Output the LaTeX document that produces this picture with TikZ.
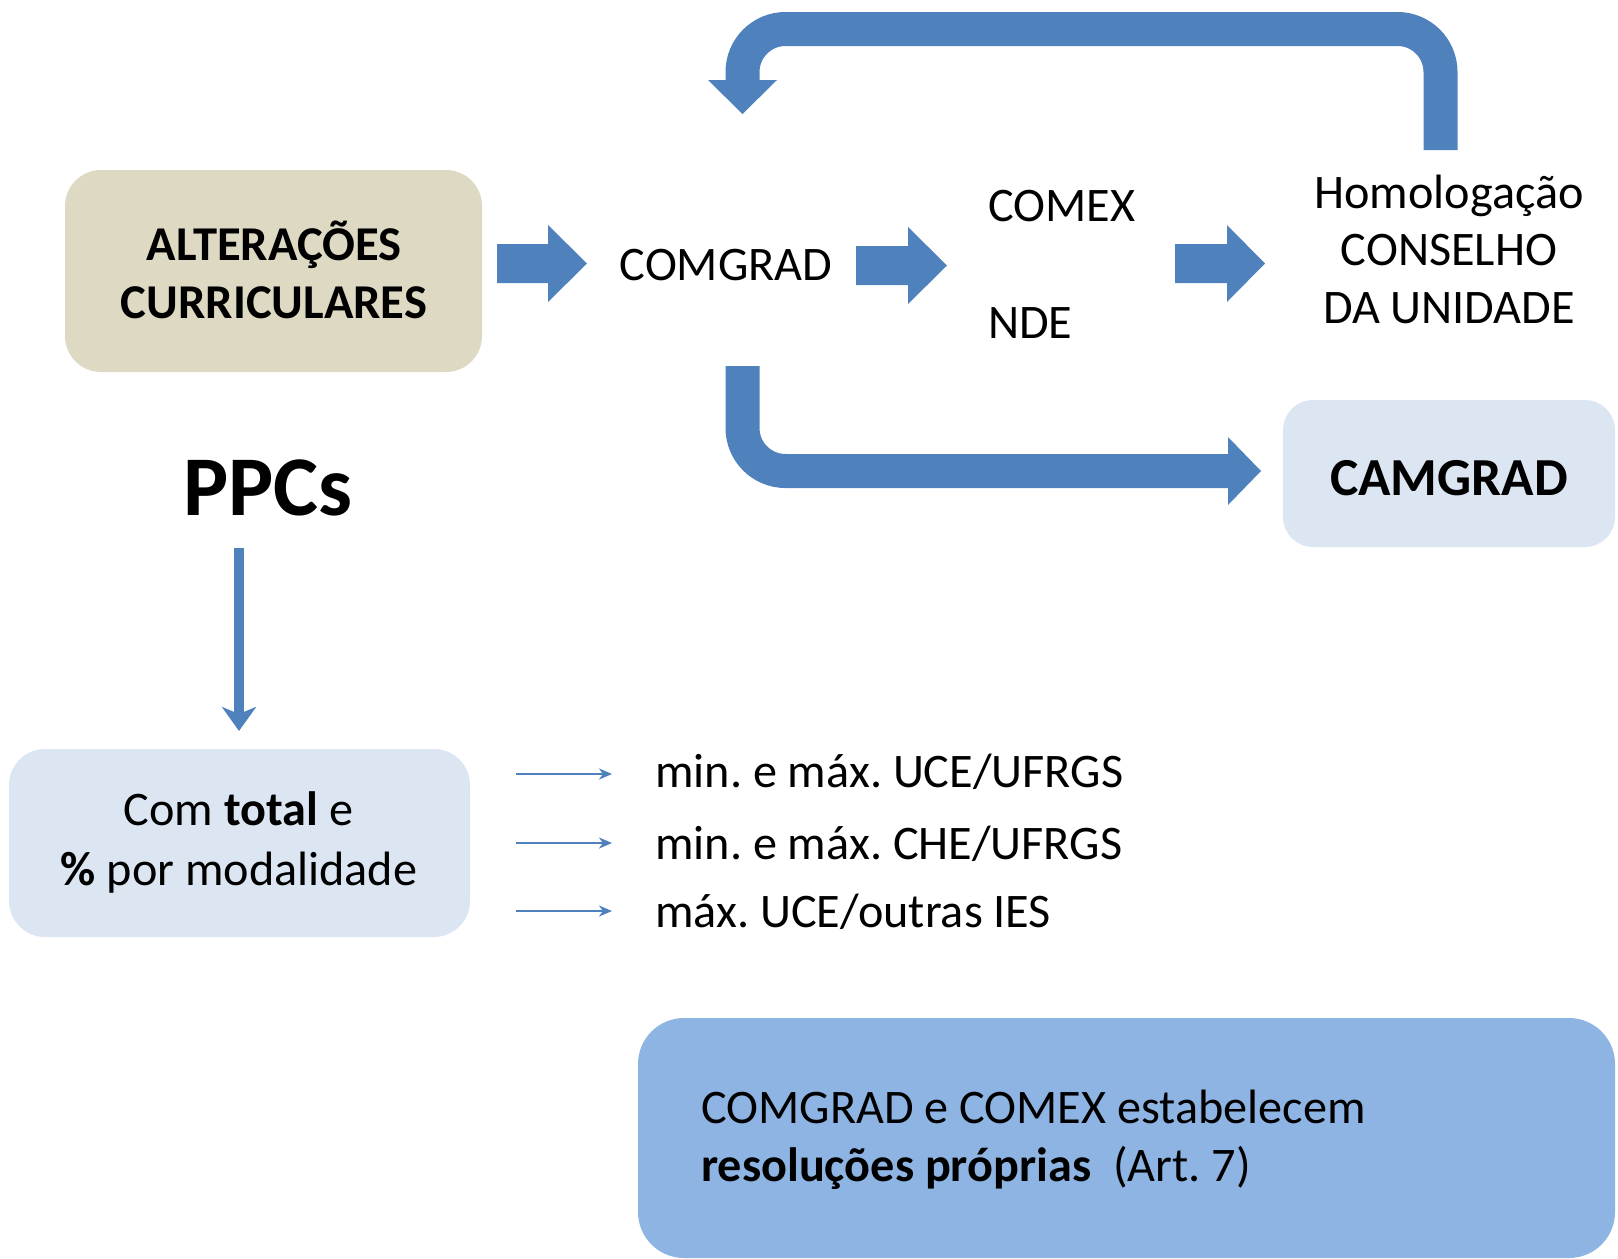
\documentclass[tikz,border=0pt]{standalone}
\usepackage{fontspec}
\setmainfont{Carlito}
\usetikzlibrary{arrows.meta}
\definecolor{arrowblue}{HTML}{4F81BD}
\definecolor{tanbox}{HTML}{DDD9C3}
\definecolor{lightbox}{HTML}{DCE6F2}
\definecolor{midbox}{HTML}{8EB4E3}
\newcommand{\blockarrow}[4]{% x0, x1, tip, ycenter
  \fill[arrowblue] (#1,#4-19.5) -- (#2,#4-19.5) -- (#2,#4-38.5) -- (#3,#4)
    -- (#2,#4+38.5) -- (#2,#4+19.5) -- (#1,#4+19.5) -- cycle;}
\frenchspacing
\begin{document}
\begin{tikzpicture}[x=1pt,y=-1pt,
  txt/.style={inner sep=0pt, font=\fontsize{48.2}{57}\selectfont},
  btxt/.style={inner sep=0pt, font=\fontsize{48.6}{57}\selectfont\bfseries},
  boxshape/.style={draw=none, inner sep=0pt},
  bigband/.style={draw=arrowblue, line width=34pt, rounded corners=43pt},
  thinarrow/.style={draw=arrowblue, line width=2.2pt, -{Stealth[length=13pt,width=11pt,inset=4pt]}},
  ppcarrow/.style={draw=arrowblue, line width=10.5pt, -{Stealth[length=24pt,width=34pt,inset=7pt]}}]
\useasboundingbox (0,0) rectangle (1618,1259);

% boxes
\node[boxshape, fill=tanbox, rounded corners=36pt, minimum width=417pt, minimum height=202pt] (alt) at (273.5,271) {};
\node[boxshape, fill=lightbox, rounded corners=30pt, minimum width=332pt, minimum height=147pt] (camgrad) at (1449,473.5) {};
\node[boxshape, fill=lightbox, rounded corners=36pt, minimum width=461pt, minimum height=188pt] (total) at (239.5,843) {};
\node[boxshape, fill=midbox, rounded corners=46pt, minimum width=977pt, minimum height=240pt] (resol) at (1126.5,1138) {};

% texts
\node[btxt, anchor=base] (alt1) at (274,260) {ALTERAÇÕES};
\node[btxt, anchor=base] (alt2) at (274,318) {CURRICULARES};
\node[txt, anchor=base] (comgrad) at (726,280) {COMGRAD};
\node[txt, anchor=base west] (comex) at (988,221) {COMEX};
\node[txt, anchor=base west] (nde) at (988,338) {NDE};
\node[txt, anchor=base] (hom1) at (1449,208) {Homologação};
\node[txt, anchor=base] (hom2) at (1449,265) {CONSELHO};
\node[txt, anchor=base] (hom3) at (1449,323) {DA UNIDADE};
\node[inner sep=0pt, font=\fontsize{53.5}{60}\selectfont\bfseries, anchor=base] (camgradtxt) at (1449,495) {CAMGRAD};
\node[inner sep=0pt, font=\fontsize{85}{90}\selectfont\bfseries, anchor=base] (ppcs) at (268,515) {PPCs};
\node[txt, anchor=base] (tot1) at (238.5,825) {Com \textbf{total} e};
\node[txt, anchor=base] (tot2) at (239,885) {\textbf{\%} por modalidade};
\node[txt, anchor=base west] (m1) at (655,787) {min. e máx. UCE/UFRGS};
\node[txt, anchor=base west] (m2) at (655,859) {min. e máx. CHE/UFRGS};
\node[txt, anchor=base west] (m3) at (655,927) {máx. UCE/outras IES};
\node[txt, anchor=base west] (r1) at (701,1123) {COMGRAD e COMEX estabelecem};
\node[txt, anchor=base west] (r2) at (701,1181) {\textbf{resoluções próprias}\ \ (Art. 7)};

% block arrows
\blockarrow{497}{548}{587}{263.5}
\blockarrow{856}{908}{947}{265.5}
\blockarrow{1175}{1227}{1265}{263.5}

% feedback U-turn arrow
\coordinate (ustart) at (1440.5,150);
\coordinate (uend) at (742.5,82);
\draw[bigband] (ustart) -- (1440.5,29) -- (742.5,29) -- (uend);
\fill[arrowblue] (708,80) -- (777,80) -- (742.5,114) -- cycle;

% COMGRAD -> CAMGRAD bent arrow
\coordinate (bstart) at (742.5,366);
\coordinate (bend) at (1229,471);
\draw[bigband] (bstart) -- (742.5,471) -- (bend);
\fill[arrowblue] (1228,437) -- (1261,471) -- (1228,505) -- cycle;

% PPCs -> total
\coordinate (ppcfrom) at (239,548);
\coordinate (ppcto) at (239,731);
\draw[ppcarrow] (ppcfrom) -- (ppcto);

% thin arrows
\coordinate (a1) at (516,774); \coordinate (b1) at (612,774);
\coordinate (a2) at (516,843); \coordinate (b2) at (612,843);
\coordinate (a3) at (516,911); \coordinate (b3) at (612,911);
\draw[thinarrow] (a1) -- (b1);
\draw[thinarrow] (a2) -- (b2);
\draw[thinarrow] (a3) -- (b3);
\end{tikzpicture}
\end{document}
